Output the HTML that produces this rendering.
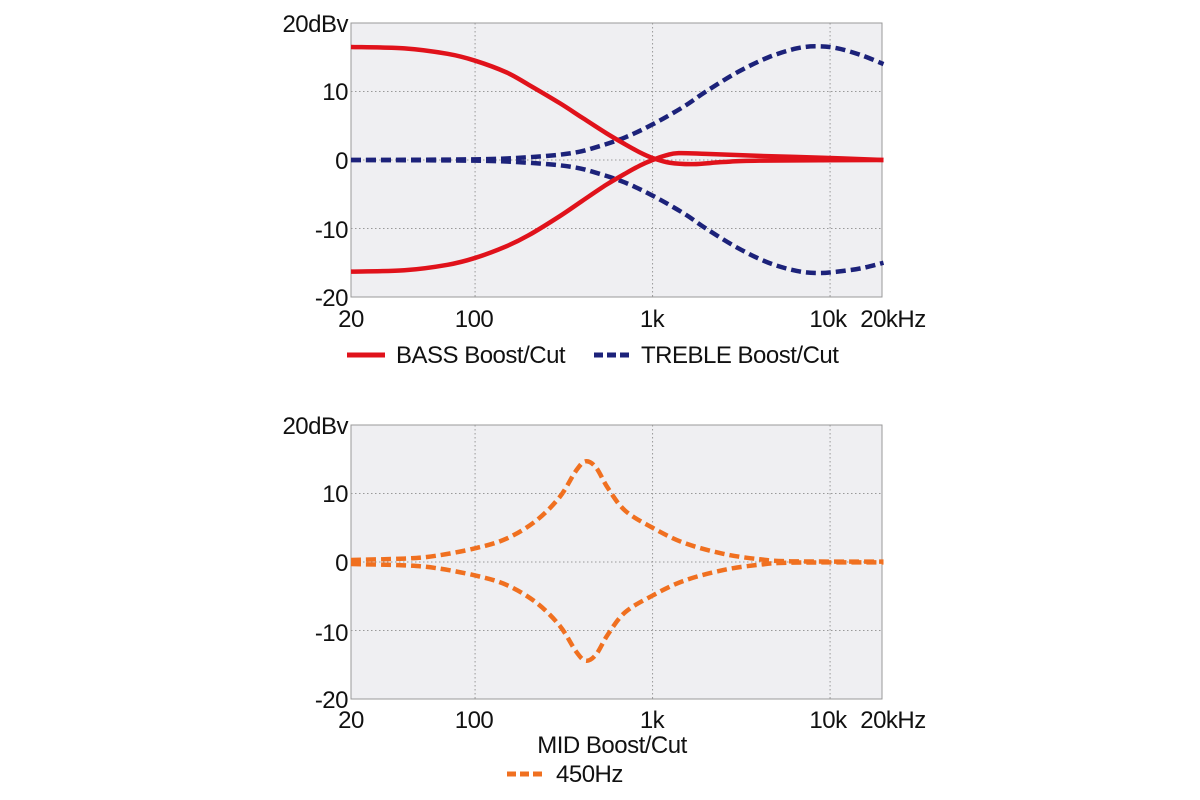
<!DOCTYPE html>
<html><head><meta charset="utf-8"><style>
body{margin:0;background:#fff;width:1200px;height:800px;overflow:hidden}
svg{display:block}
text{font-family:"Liberation Sans",sans-serif;fill:#111}
</style></head><body>
<svg id="s" width="1200" height="800" xmlns="http://www.w3.org/2000/svg">
<rect x="351" y="23" width="531" height="274" fill="#efeff2" stroke="#999" stroke-width="1"/>
<rect x="351" y="425" width="531" height="274" fill="#efeff2" stroke="#999" stroke-width="1"/>
<g id="grid" stroke="#999" stroke-width="1" stroke-dasharray="1.5,2.5"></g>
<g font-size="24" text-anchor="end" letter-spacing="-0.5">
<text x="348" y="32">20dBv</text><text x="348" y="100">10</text><text x="348" y="169">0</text><text x="348" y="238">-10</text><text x="348" y="306">-20</text>
<text x="348" y="434">20dBv</text><text x="348" y="502">10</text><text x="348" y="571">0</text><text x="348" y="641">-10</text><text x="348" y="708">-20</text>
</g>
<g font-size="24" text-anchor="middle" letter-spacing="-0.5">
<text x="351" y="327">20</text><text x="474" y="327">100</text><text x="652" y="327">1k</text><text x="828" y="327">10k</text><text x="893" y="327">20kHz</text>
<text x="351" y="728">20</text><text x="474" y="728">100</text><text x="652" y="728">1k</text><text x="828" y="728">10k</text><text x="893" y="728">20kHz</text>
<text x="612" y="753">MID Boost/Cut</text>
</g>
<g font-size="24" letter-spacing="-0.5">
<line x1="347" y1="355" x2="385" y2="355" stroke="#e0121b" stroke-width="5"/>
<text x="396" y="363">BASS Boost/Cut</text>
<line x1="594" y1="355" x2="632" y2="355" stroke="#1c227a" stroke-width="5" stroke-dasharray="9,4"/>
<text x="641" y="363">TREBLE Boost/Cut</text>
<line x1="507" y1="774" x2="545" y2="774" stroke="#f07020" stroke-width="5" stroke-dasharray="9,4"/>
<text x="556" y="782">450Hz</text>
</g>
<g id="curves" fill="none" stroke-width="4.5"></g>
</svg>
<script>
var X=f=>351+177.5*Math.log10(f/20);
var g=document.getElementById('grid'),c=document.getElementById('curves'),NS='http://www.w3.org/2000/svg';
function ln(a,b,cc,d){var l=document.createElementNS(NS,'line');l.setAttribute('x1',a);l.setAttribute('y1',b);l.setAttribute('x2',cc);l.setAttribute('y2',d);g.appendChild(l);}
[100,1000,10000].forEach(f=>{ln(X(f),23,X(f),297);ln(X(f),425,X(f),699);});
[10,0,-10].forEach(v=>{ln(351,160-v*6.85,882,160-v*6.85);ln(351,562-v*6.85,882,562-v*6.85);});
function path(pts,y0,col,dash){
 var p=pts.map(q=>[X(q[0]),y0-q[1]*6.85]);
 var d='M'+p[0][0]+','+p[0][1];
 for(var i=0;i<p.length-1;i++){var p0=p[i-1]||p[i],p1=p[i],p2=p[i+1],p3=p[i+2]||p2;
  d+=' C'+(p1[0]+(p2[0]-p0[0])/6)+','+(p1[1]+(p2[1]-p0[1])/6)+' '+(p2[0]-(p3[0]-p1[0])/6)+','+(p2[1]-(p3[1]-p1[1])/6)+' '+p2[0]+','+p2[1];}
 var e=document.createElementNS(NS,'path');e.setAttribute('d',d);e.setAttribute('stroke',col);if(dash)e.setAttribute('stroke-dasharray',dash);c.appendChild(e);}
var tb=[[20,0],[100,0.1],[200,0.4],[350,1],[500,2],[700,3.3],[1000,5.2],[1500,7.8],[2000,10],[3000,12.8],[4500,15],[6500,16.3],[8500,16.6],[11000,16.3],[15000,15.3],[20000,14]];
path(tb,160,'#1c227a','10,5');
path([[20,0],[100,-0.1],[200,-0.4],[350,-1],[500,-2],[700,-3.3],[1000,-5.2],[1500,-7.8],[2000,-10],[3000,-12.8],[4500,-15],[6500,-16.2],[8500,-16.5],[11000,-16.3],[15000,-15.8],[20000,-15]],160,'#1c227a','10,5');
path([[20,16.5],[40,16.3],[70,15.5],[100,14.5],[150,12.8],[200,11],[300,8.3],[400,6.2],[550,3.9],[700,2.3],[850,1.1],[1000,0.3],[1250,-0.4],[1700,-0.6],[2500,-0.3],[4000,-0.1],[20000,0]],160,'#e0121b');
path([[20,-16.3],[40,-16.1],[70,-15.3],[100,-14.3],[150,-12.6],[200,-11],[300,-8.2],[400,-6],[550,-3.6],[700,-2],[850,-0.8],[1000,0],[1200,0.7],[1400,1],[2000,0.9],[4000,0.6],[10000,0.3],[20000,0]],160,'#e0121b');
var md=[[20,0.3],[40,0.5],[60,0.9],[100,2],[150,3.4],[220,6],[300,9.5],[370,13.3],[420,14.7],[480,13.8],[560,10.8],[700,7.5],[1000,5],[1500,2.8],[2500,1.2],[4000,0.4],[6000,0.1],[20000,0.05]];
path(md,562,'#f07020','10,5');
path(md.map(q=>[q[0],-q[1]*0.98]),562,'#f07020','10,5');
</script>
</body></html>
